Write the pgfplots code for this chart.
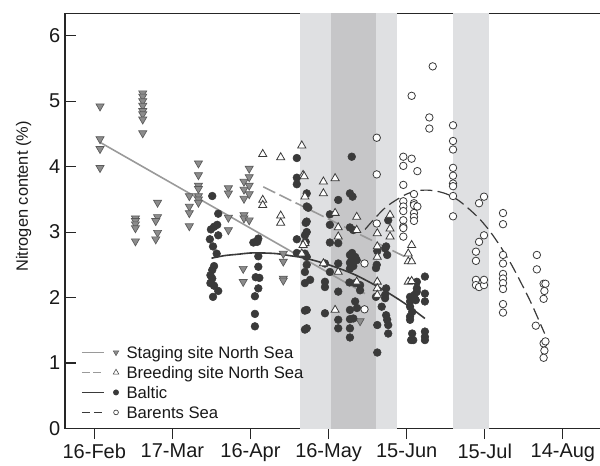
\documentclass[border=0pt]{standalone}
\usepackage{fontspec}
\setmainfont{Liberation Sans}
\usepackage{pgfplots}
\pgfplotsset{compat=1.18}
\definecolor{bandlight}{HTML}{DFE0E2}
\definecolor{banddark}{HTML}{C6C6C8}
\definecolor{stagingfill}{HTML}{8C8C8C}
\definecolor{stagingedge}{HTML}{5A5A5A}
\definecolor{lightline}{HTML}{9A9A9A}
\definecolor{darkpt}{HTML}{3A3A3A}
\begin{document}
\begin{tikzpicture}
\begin{axis}[
  scale only axis, width=408.75pt, height=311.4pt,
  xmin=-11.26, xmax=198.1, ymin=0, ymax=6.34,
  xtick={0,30,60,90,120,150,180},
  xticklabels={16-Feb,17-Mar,16-Apr,16-May,15-Jun,15-Jul,14-Aug},
  ytick={0,1,2,3,4,5,6},
  tick pos=left,
  xtick align=outside, ytick align=inside,
  major tick length=8pt,
  tick style={color=black!85, line width=0.8pt},
  axis line style={color=black!85, line width=0.8pt},
  tick label style={font=\fontsize{15}{18}\selectfont, color=black!90},
  /pgf/number format/assume math mode=true,
  ylabel={Nitrogen content (\%)},
  every axis y label/.style={at={(axis description cs:-0.0761,0.5588)}, rotate=90, anchor=center, font=\fontsize{12.3}{14}\selectfont, color=black!90},
  legend cell align=left,
  legend style={draw=none, fill=none, inner sep=0pt, at={(axis description cs:0.0288,0.018)}, anchor=south west,
    font=\fontsize{12.5}{15}\selectfont, row sep=2.5pt,
    nodes={inner sep=0pt, text height=10.5pt, text depth=2pt, text=black!90}},
]
% shaded periods
\addplot[fill=bandlight, draw=none, forget plot] coordinates {(79.1,7) (116.2,7)} \closedcycle;
\addplot[fill=banddark, draw=none, forget plot] coordinates {(90.9,7) (108.4,7)} \closedcycle;
\addplot[fill=bandlight, draw=none, forget plot] coordinates {(137.8,7) (151.8,7)} \closedcycle;

% Staging site North Sea
\addplot[only marks, forget plot, mark=triangle*, mark size=3.5pt, mark options={rotate=180, fill=stagingfill, draw=stagingedge, line width=0.5pt}] coordinates {
(2.2,4.92) (2.2,4.42) (2.2,4.27) (2.2,3.98)
(18.6,5.12) (18.6,5.07) (18.6,5.00) (18.6,4.93) (18.6,4.85) (18.6,4.80) (18.6,4.72) (18.6,4.51)
(15.8,3.21) (15.8,3.17) (15.8,3.12) (15.8,3.06) (15.8,2.86)
(24.3,3.45) (24.3,3.23) (23.6,3.17) (24.3,2.99) (23.6,2.89)
(36.5,3.55) (36.5,3.39) (36.5,3.29) (36.5,3.09)
(40.0,4.05) (40.0,3.87) (40.0,3.71) (40.0,3.66) (40.0,3.55) (40.0,3.50) (40.0,3.45)
(51.5,3.67) (51.5,3.59) (51.5,3.22) (51.5,3.03)
(57.5,3.77) (57.5,3.65) (57.5,3.51) (57.5,3.26) (57.5,3.21)
(59.5,3.97) (59.5,3.84) (59.5,3.71) (59.5,3.58) (59.5,3.18)
(57.2,2.44) (57.2,2.24)
(72.6,2.67) (72.6,2.55) (72.6,2.29) (72.6,2.26)
(102.1,1.64)
};

% Baltic
\addplot[only marks, forget plot, mark=*, mark size=2.9pt, mark options={fill=darkpt, draw=darkpt, line width=0.4pt}] coordinates {
(45.3,3.55) (47.6,3.28) (44.8,3.04) (46.0,3.08) (47.2,3.11) (47.6,2.95) (44.4,2.89) (45.6,2.78) (47.0,2.67)
(46.0,2.48) (45.3,2.42) (44.6,2.34) (45.3,2.29) (44.6,2.22) (46.0,2.18) (47.6,2.10) (45.6,2.01)
(63.0,2.90) (62.6,2.85) (61.1,2.84) (63.0,2.63) (63.0,2.47) (62.0,2.31) (63.4,2.30) (63.0,2.14) (61.7,2.02) (61.7,1.75) (61.7,1.56)
(77.8,4.13) (77.8,3.83) (77.8,3.73) (77.8,2.89) (77.8,2.68)
(81.6,3.59) (81.6,3.39) (82.2,3.37) (81.6,3.16) (81.2,3.14) (81.6,3.00) (80.9,2.95) (81.2,2.85) (80.9,2.83)
(80.9,2.67) (81.6,2.62) (81.6,2.50) (80.9,2.39) (82.9,2.27) (80.9,2.22) (81.6,1.81) (80.9,1.80) (81.6,1.53) (80.9,1.51) (80.9,2.65)
(90.5,3.27) (90.5,3.11) (90.5,2.84) (93.7,2.83) (88.6,2.52) (90.5,2.39) (93.7,2.52) (88.6,2.24) (88.6,2.16)
(93.7,2.09) (88.6,1.76) (93.7,1.66) (93.7,1.53) (93.7,3.49)
(98.9,4.15) (98.2,3.59) (99.2,3.54) (98.2,3.07) (99.5,3.03) (98.2,2.65) (99.0,2.68) (100.2,2.62) (98.9,2.58)
(98.2,2.53) (99.5,2.48) (100.8,2.57) (98.2,2.44) (98.0,2.23) (100.2,2.22) (102.1,2.19) (102.1,2.11) (98.2,1.81)
(100.9,1.84) (100.2,1.94) (98.2,1.67) (99.5,1.68) (98.2,1.53) (98.2,1.39)
(112.9,3.18) (111.7,2.75) (112.1,2.78) (112.5,2.65) (108.7,2.71) (108.2,2.45) (108.5,2.50) (112.1,2.14)
(111.7,2.04) (111.7,1.99) (108.2,2.01) (110.4,1.86) (112.1,1.73) (112.5,1.66) (112.9,1.58) (112.9,1.45)
(108.7,1.58) (108.7,1.16)
(127.0,2.32) (123.9,2.24) (123.9,2.14) (123.9,2.09) (127.0,2.06) (127.0,1.94) (121.3,2.01) (121.3,1.94)
(121.3,1.86) (122.1,1.78) (121.3,1.71) (121.3,1.66) (122.1,1.45) (122.5,1.35) (121.7,1.35) (127.0,1.48)
(127.0,1.40) (127.0,1.35) (123.0,2.04) (123.5,1.96)
};

% Breeding site North Sea
\addplot[only marks, forget plot, mark=triangle*, mark size=3.5pt, mark options={fill=white, draw=darkpt, line width=0.6pt}] coordinates {
(64.7,4.19) (64.7,3.49) (64.7,3.41)
(71.6,4.14) (71.6,3.25) (71.6,3.14)
(79.7,4.32) (80.2,3.87) (80.6,3.85) (80.9,3.54) (80.9,2.83) (80.2,2.80) (79.7,2.67)
(88.0,3.77) (88.0,3.59) (88.0,2.52)
(92.5,3.82) (92.5,3.29) (92.5,1.81)
(93.7,3.07) (93.7,2.93) (93.7,2.39)
(100.8,3.23) (100.8,3.03) (100.8,2.24)
(108.7,2.98) (108.7,2.78) (108.7,2.62) (108.7,2.24) (108.7,2.14) (108.7,2.04)
(113.6,3.26) (113.6,3.05) (113.6,2.93)
(121.9,2.80) (120.6,2.67) (120.6,2.55) (121.9,2.55) (120.6,2.24) (121.9,2.25)
};

% Barents Sea
\addplot[only marks, forget plot, mark=*, mark size=2.8pt, mark options={fill=white, draw=darkpt, line width=0.6pt}] coordinates {
(103.8,2.52) (103.8,1.82)
(108.5,4.44) (108.5,3.88) (108.5,3.13)
(118.7,4.15) (118.7,4.01) (118.7,3.72) (118.7,3.47) (118.7,3.39) (118.7,3.32) (118.7,3.18) (118.7,3.08) (118.7,3.06) (118.7,2.93)
(121.9,5.08) (121.9,4.12)
(124.1,3.93) (122.8,3.58) (122.8,3.44) (122.8,3.41) (124.1,3.39) (122.8,3.29) (122.8,3.23) (122.8,3.17)
(128.7,4.75) (128.7,4.58)
(130.0,5.53)
(137.8,4.63) (137.8,4.39) (137.8,4.26) (137.8,3.98) (137.8,3.86) (137.8,3.74) (137.8,3.70) (137.8,3.55) (137.8,3.24)
(146.6,2.70) (146.6,2.56) (146.6,2.27) (146.6,2.19)
(147.8,3.44) (147.8,2.85) (147.8,2.16)
(149.7,3.54) (149.7,2.95) (149.7,2.19) (149.7,2.27)
(157.0,3.29) (157.0,3.12) (157.0,2.65) (157.0,2.52) (157.0,2.36) (157.0,2.29) (157.0,2.22) (157.0,2.13) (157.0,1.90) (157.0,1.77)
(170.0,2.65) (170.0,2.43) (169.6,1.57)
(172.6,2.21) (173.3,2.21) (172.9,2.10) (172.6,1.98) (172.6,1.30) (173.3,1.33) (172.9,1.19) (172.6,1.08)
};

% Regression lines (with legend entries)
\addplot[lightline, line width=1.2pt,
  legend image code/.code={
    \draw[lightline, line width=1.2pt] (0pt,0pt) -- (17pt,0pt);
    \draw[solid, line width=0.4pt, draw=stagingedge, fill=stagingfill] plot[mark=triangle*, mark size=2.4pt, mark options={rotate=180}] coordinates {(25.7pt,0pt)};
    \path (33pt,0pt);
  }] coordinates {(2.2,4.37) (104,2.06)};
\addlegendentry{Staging site North Sea}

\addplot[lightline, line width=1.2pt, dash pattern=on 10pt off 3.5pt,
  legend image code/.code={
    \draw[lightline, line width=1.2pt, dash pattern=on 6pt off 2.5pt] (0pt,0pt) -- (17pt,0pt);
    \draw[solid, line width=0.4pt, draw=darkpt, fill=white] plot[mark=triangle*, mark size=2.4pt] coordinates {(25.7pt,0pt)};
    \path (33pt,0pt);
  }] coordinates {(64.9,3.69) (119.5,2.62)};
\addlegendentry{Breeding site North Sea}

\addplot[darkpt, line width=1.2pt, smooth,
  legend image code/.code={
    \draw[darkpt, line width=1.2pt] (0pt,0pt) -- (17pt,0pt);
    \draw[solid, line width=0.4pt, draw=darkpt, fill=darkpt] plot[mark=*, mark size=2pt] coordinates {(25.7pt,0pt)};
    \path (33pt,0pt);
  }] coordinates {(45,2.60) (50,2.64) (55,2.66) (60,2.68) (65,2.68) (70,2.67) (75,2.64) (80,2.61) (85,2.56) (90,2.50) (95,2.43) (100,2.35) (105,2.25) (110,2.14) (115,2.02) (120,1.89) (125,1.74) (127,1.68)};
\addlegendentry{Baltic}

\addplot[darkpt, line width=0.9pt, smooth, dash pattern=on 9pt off 4pt,
  legend image code/.code={
    \draw[darkpt, line width=0.9pt, dash pattern=on 6pt off 3pt] (0pt,0pt) -- (17pt,0pt);
    \draw[solid, line width=0.5pt, draw=darkpt, fill=white] plot[mark=*, mark size=1.8pt] coordinates {(25.7pt,0pt)};
    \path (33pt,0pt);
  }] coordinates {(104,3.04) (108,3.22) (112,3.38) (116,3.49) (120,3.58) (124,3.63) (128,3.64) (132,3.62) (136,3.57) (140,3.48) (144,3.35) (148,3.20) (152,3.01) (156,2.78) (160,2.52) (164,2.22) (168,1.90) (172,1.54) (173,1.45)};
\addlegendentry{Barents Sea}
\end{axis}
\pgfresetboundingbox
\useasboundingbox (-48.75pt,-27.375pt) rectangle (401.25pt,321.375pt);
\end{tikzpicture}
\end{document}
